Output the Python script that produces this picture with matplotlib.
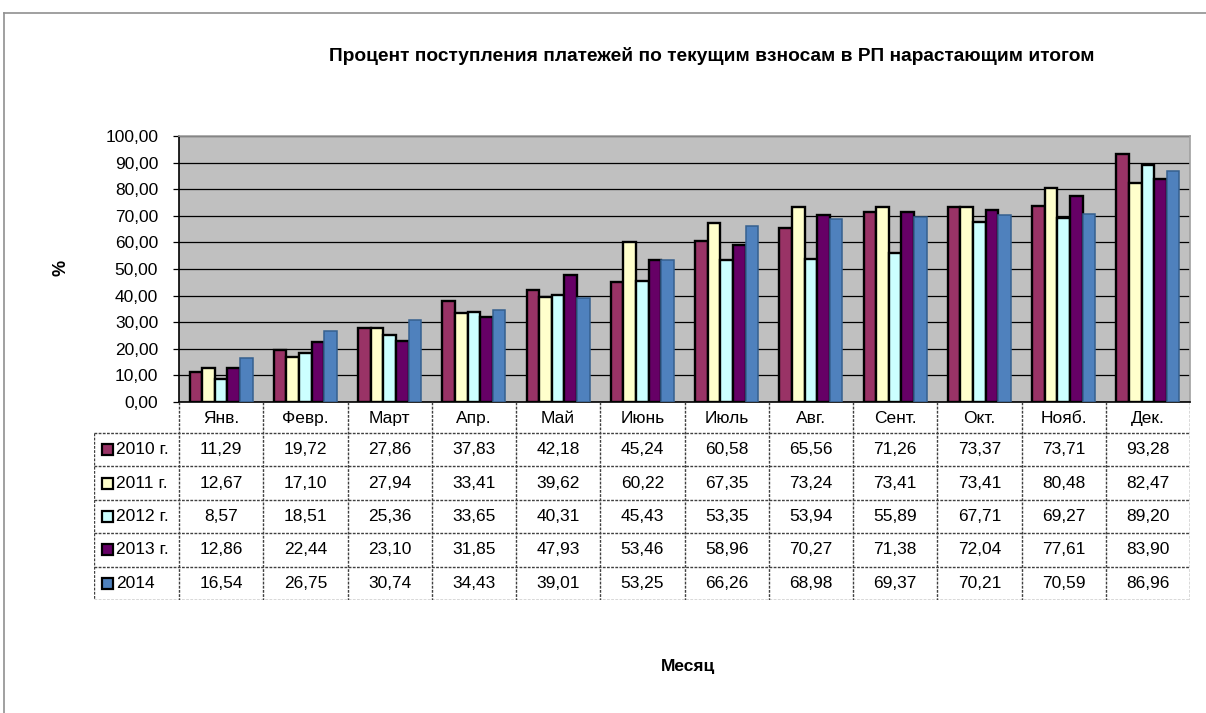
#!/usr/bin/env python3

import matplotlib
matplotlib.use("Agg")
import matplotlib.pyplot as plt
import numpy as np
from matplotlib.lines import Line2D
from matplotlib.patches import Rectangle

plt.rcParams["font.family"] = ["Liberation Sans", "DejaVu Sans"]

months = ["Янв.", "Февр.", "Март", "Апр.", "Май", "Июнь",
          "Июль", "Авг.", "Сент.", "Окт.", "Нояб.", "Дек."]
series_names = ["2010 г.", "2011 г.", "2012 г.", "2013 г.", "2014"]

v2010 = [11.29, 19.72, 27.86, 37.83, 42.18, 45.24, 60.58, 65.56, 71.26, 73.37, 73.71, 93.28]
v2011 = [12.67, 17.10, 27.94, 33.41, 39.62, 60.22, 67.35, 73.24, 73.41, 73.41, 80.48, 82.47]
v2012 = [8.57, 18.51, 25.36, 33.65, 40.31, 45.43, 53.35, 53.94, 55.89, 67.71, 69.27, 89.20]
v2013 = [12.86, 22.44, 23.10, 31.85, 47.93, 53.46, 58.96, 70.27, 71.38, 72.04, 77.61, 83.90]
v2014 = [16.54, 26.75, 30.74, 34.43, 39.01, 53.25, 66.26, 68.98, 69.37, 70.21, 70.59, 86.96]
series_values = [v2010, v2011, v2012, v2013, v2014]

face_colors = ["#993366", "#FFFFCC", "#CCFFFF", "#660066", "#4F81BD"]
edge_colors = ["black", "black", "black", "black", "#35608f"]
edge_widths = [1.7, 1.7, 1.7, 1.7, 1.1]

W, H = 1206, 713
fig = plt.figure(figsize=(W / 100, H / 100), dpi=100)


def fx(px):
    return px / W


def fy(py):
    return 1 - py / H


# plot area in pixels
pl, pr, pt, pb = 179, 1190, 136, 402
ax = fig.add_axes([fx(pl), fy(pb), fx(pr - pl), (pb - pt) / H])
ax.set_facecolor("#C0C0C0")

n = len(months)
x = np.arange(n)
bw = 0.15
for i, (name, vals) in enumerate(zip(series_names, series_values)):
    offs = (i - 2) * bw
    ax.bar(x + offs, vals, width=bw, color=face_colors[i],
           edgecolor=edge_colors[i], linewidth=edge_widths[i], zorder=3)

ax.set_xlim(-0.5, n - 0.5)
ax.set_ylim(0, 100)
ax.set_yticks(np.arange(0, 101, 10))
ax.set_yticklabels([f"{v:.2f}".replace(".", ",") for v in np.arange(0, 101, 10)],
                   fontsize=12.5)
ax.yaxis.grid(True, color="black", linewidth=0.9, zorder=0)
ax.set_axisbelow(True)
ax.set_xticks([])
ax.tick_params(axis="y", length=4, width=0.9, pad=11)
for side in ("top", "right"):
    ax.spines[side].set_color("#a0a0a0")
    ax.spines[side].set_linewidth(1.2)
for side in ("left", "bottom"):
    ax.spines[side].set_color("black")
    ax.spines[side].set_linewidth(1.2)

# data table under the plot
tl = 94
tb = 600
col_w = (pr - pl) / n
tax = fig.add_axes([fx(tl), fy(tb), fx(pr - tl), (tb - pb) / H])
tax.set_xlim(-0.5 - (pl - tl) / col_w, n - 0.5)
tax.set_ylim(tb - pb, 0)
tax.axis("off")

header_h = 31
row_h = (tb - pb - header_h) / len(series_names)
line_kw = dict(color="#404040", linewidth=1.0, linestyle=(0, (2, 1)))
x_left = tax.get_xlim()[0]

# vertical lines
for k in range(n + 1):
    tax.add_line(Line2D([k - 0.5, k - 0.5], [0, tb - pb], **line_kw))
tax.add_line(Line2D([x_left, x_left], [header_h, tb - pb], **line_kw))
# horizontal lines
for r in range(len(series_names) + 1):
    yy = header_h + r * row_h
    tax.add_line(Line2D([x_left, n - 0.5], [yy, yy], **line_kw))

for k, m in enumerate(months):
    tax.text(k, header_h / 2 + 1, m, ha="center", va="center", fontsize=12.5)

key_px = 11
for r, (name, vals) in enumerate(zip(series_names, series_values)):
    yc = header_h + (r + 0.5) * row_h
    for k, v in enumerate(vals):
        tax.text(k, yc, f"{v:.2f}".replace(".", ","), ha="center",
                 va="center", fontsize=12.5)
    kx = x_left + (102 - tl) / col_w
    tax.add_patch(Rectangle((kx, yc - key_px / 2), key_px / col_w, key_px,
                            facecolor=face_colors[r], edgecolor="black",
                            linewidth=1.6, clip_on=False))
    tax.text(x_left + (116 - tl) / col_w, yc, name, ha="left", va="center",
             fontsize=12.5)

# titles
fig.text(fx(712), fy(56), "Процент поступления платежей по текущим взносам в РП нарастающим итогом",
         ha="center", va="center", fontsize=13.8, fontweight="bold")
fig.text(fx(61), fy(268), "%", ha="center", va="center", rotation=90,
         fontsize=13, fontweight="bold")
fig.text(fx(688), fy(667), "Месяц", ha="center", va="center",
         fontsize=12.5, fontweight="bold")

# outer frame
fig.add_artist(Line2D([fx(4), 1], [fy(13), fy(13)], color="#909090", linewidth=1.2))
fig.add_artist(Line2D([fx(4), fx(4)], [fy(13), 0], color="#909090", linewidth=1.2))

fig.savefig("out.png", dpi=100)
